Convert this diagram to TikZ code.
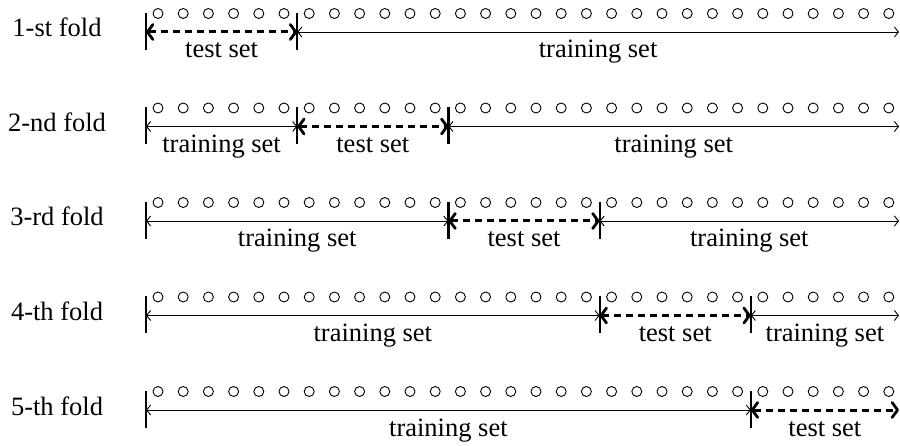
\documentclass[tikz,border=0pt]{standalone}
\usepackage{fontspec}
\setmainfont{Liberation Serif}
\usetikzlibrary{arrows.meta}
\tikzset{
  trainhead/.tip={Straight Barb[length=4pt,width=10pt,line width=0.9pt]},
  testhead/.tip={Straight Barb[length=5.5pt,width=15pt,line width=2.8pt,round]},
}
\begin{document}
\begin{tikzpicture}[x=1pt,y=-1pt,
  trainline/.style={line width=0.9pt, arrows={trainhead-trainhead}},
  testline/.style={line width=3pt, dash pattern=on 7pt off 5pt, arrows={testhead-testhead}},
  tickline/.style={line width=2.2pt},
  dot/.style={circle, draw, line width=0.9pt, inner sep=0pt, minimum size=10pt},
  lbl/.style={font=\fontsize{26.5}{30}\selectfont, inner sep=0pt, anchor=base},
]
\useasboundingbox (0,0) rectangle (900,446);
\foreach \r/\sfx in {1/st,2/nd,3/rd,4/th,5/th} {
  \pgfmathsetmacro\y{32+94.5*(\r-1)}
  \pgfmathtruncatemacro\rp{\r-1}
  \foreach \k in {0,...,5} {
    \pgfmathsetmacro\xx{min(146+151.2*\k,899)}
    \coordinate (r\r b\k) at (\xx,\y);
  }
  \node[lbl] (lab\r) at (57,\y+5) {\r-\sfx{} fold};
  \foreach \j in {0,...,29} {
    \node[dot] (r\r c\j) at ({158+25.2*\j},\y-18.5) {};
  }
  \draw[tickline] ([yshift=19pt]r\r b0) -- ([yshift=-18pt]r\r b0);
  \ifnum\r>1
    \draw[tickline] ([yshift=19pt]r\r b\rp) -- ([yshift=-18pt]r\r b\rp);
    \draw[trainline] (r\r b0) -- (r\r b\rp);
    \path (r\r b0) -- (r\r b\rp) node[midway, lbl, yshift=-26pt] (tra\r) {training set};
  \fi
  \ifnum\r<5
    \draw[tickline] ([yshift=19pt]r\r b\r) -- ([yshift=-18pt]r\r b\r);
    \draw[trainline] (r\r b\r) -- (r\r b5);
    \path (r\r b\r) -- (r\r b5) node[midway, lbl, yshift=-26pt] (trb\r) {training set};
  \fi
  \draw[testline] (r\r b\rp) -- (r\r b\r);
  \path (r\r b\rp) -- (r\r b\r) node[midway, lbl, yshift=-26pt] (te\r) {test set};
}
\end{tikzpicture}
\end{document}
